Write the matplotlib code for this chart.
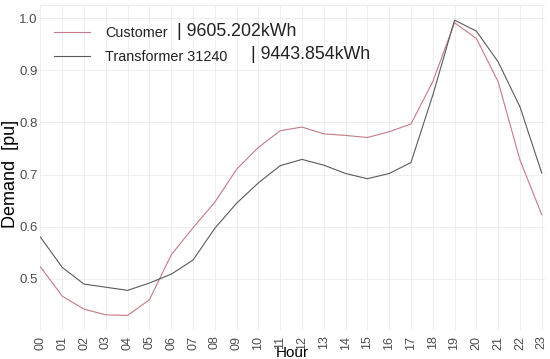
import matplotlib
matplotlib.use("Agg")
import matplotlib.pyplot as plt

hours = list(range(24))
hour_labels = [f"{h:02d}" for h in hours]
customer = [0.523, 0.467, 0.442, 0.431, 0.430, 0.460, 0.546, 0.598, 0.647, 0.710,
            0.752, 0.784, 0.791, 0.778, 0.775, 0.771, 0.782, 0.797, 0.878, 0.991,
            0.961, 0.878, 0.728, 0.623]
transformer = [0.580, 0.522, 0.490, 0.484, 0.478, 0.492, 0.509, 0.536, 0.597, 0.645,
               0.684, 0.717, 0.729, 0.718, 0.702, 0.692, 0.702, 0.723, 0.852, 0.996,
               0.975, 0.916, 0.830, 0.703]
yticks = [0.5, 0.6, 0.7, 0.8, 0.9, 1.0]
series_names = ["Customer", "Transformer 31240"]
energy_labels = ["| 9605.202kWh", "| 9443.854kWh"]

plt.rcParams['font.family'] = ['Liberation Sans', 'DejaVu Sans']

fig = plt.figure(figsize=(5.5, 3.59), dpi=100)
ax = fig.add_axes([40/550, 1-330/359, (545-40)/550, (330-5)/359])

l1, = ax.plot(hours, customer, color="#c47a82", lw=0.8)
l2, = ax.plot(hours, transformer, color="#5a5a5a", lw=0.8)

ax.set_xlim(-0.02, 23.15)
ax.set_ylim(0.402, 1.025)
ax.set_xticks(hours)
ax.set_xticklabels(hour_labels, rotation=90, fontsize=9, color="#4d4d4d")
ax.set_yticks(yticks)
ax.set_yticklabels([f"{v:.1f}" for v in yticks], fontsize=9.5, color="#4d4d4d")
ax.tick_params(axis="x", length=0, pad=4)
ax.tick_params(axis="y", length=0, pad=1.5)
ax.grid(True, color="#ebebeb", lw=0.6)
ax.set_axisbelow(True)
for s in ax.spines.values():
    s.set_visible(False)
ax.axhline(1.025, color="#ebebeb", lw=0.6, zorder=0)

ax.set_ylabel("Demand  [pu]", fontsize=13, labelpad=0)
ax.yaxis.set_label_coords(-0.041, 1 - (174 - 5) / 325)
ax.set_xlabel("Hour", fontsize=11, labelpad=-2.5)

leg = ax.legend([l1, l2], series_names, loc="upper left",
                bbox_to_anchor=(14/505, 1 - 21/325), frameon=False,
                fontsize=10.4, handlelength=2.5, handletextpad=1.05,
                labelspacing=0.67, borderpad=0, borderaxespad=0)
for t in leg.get_texts():
    t.set_color("#222222")

fig.text(177/550, 1-36.5/359, energy_labels[0], fontsize=12.8, color="#222222", va="baseline")
fig.text(251/550, 1-59/359, energy_labels[1], fontsize=12.8, color="#222222", va="baseline")

fig.savefig("out.png", dpi=100)
